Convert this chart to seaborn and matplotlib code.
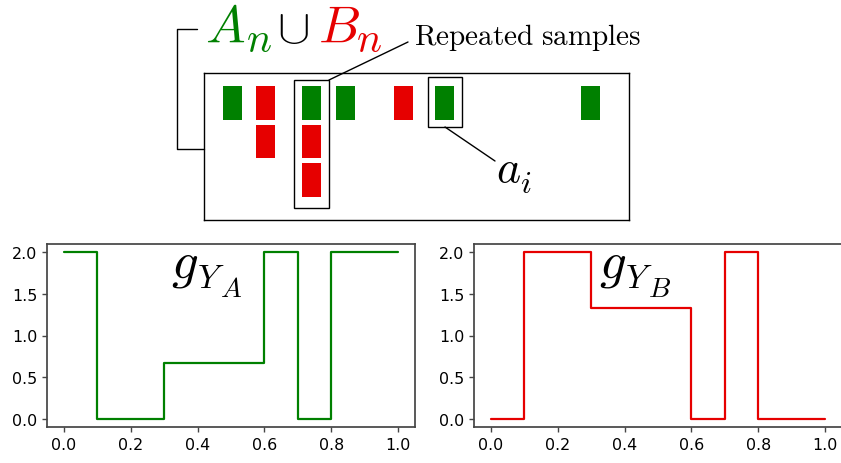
import numpy as np
import pandas as pd
import matplotlib
matplotlib.use("Agg")
import matplotlib.pyplot as plt
from matplotlib.lines import Line2D
from matplotlib.patches import Rectangle
import seaborn as sns

sns.set_style("ticks")
plt.rcParams['font.family'] = ['DejaVu Sans']
plt.rcParams['mathtext.fontset'] = 'cm'
plt.rcParams['text.color'] = 'black'
plt.rcParams['axes.edgecolor'] = '0.27'
plt.rcParams['xtick.color'] = '0.27'
plt.rcParams['ytick.color'] = '0.27'
plt.rcParams['xtick.labelcolor'] = 'black'
plt.rcParams['ytick.labelcolor'] = 'black'

green = '#008000'
red = '#e60000'

#%% dados
# amostras (posição no intervalo e conjunto de origem)
sample_x = [0.067, 0.145, 0.145, 0.253, 0.253, 0.253, 0.332, 0.469, 0.566, 0.909]
sample_set = ['A', 'B', 'B', 'A', 'B', 'B', 'A', 'B', 'A', 'A']

# funções degrau
edges = [0.0, 0.1, 0.3, 0.6, 0.7, 0.8, 1.0]
g_A = [2.0, 0.0, 0.667, 2.0, 0.0, 2.0, 2.0]
g_B = [0.0, 2.0, 1.333, 0.0, 2.0, 0.0, 0.0]

x_ticks = [0.0, 0.2, 0.4, 0.6, 0.8, 1.0]
y_ticks = [0.0, 0.5, 1.0, 1.5, 2.0]

W, H = 841, 464
fig = plt.figure(figsize=(W / 100, H / 100), dpi=100)


def px(x, y):
    return x / W, 1 - y / H


def rect(l, t, r, b):
    return [l / W, 1 - b / H, (r - l) / W, (b - t) / H]


def label(x, y, s, size, color='black'):
    fig.text(*px(x, y), s, color=color, fontsize=size, va='baseline')


#%% painel de cima
ax0 = fig.add_axes(rect(204, 74, 629, 221))
ax0.set_xlim(0, 1)
ax0.set_ylim(3.82, 0)
ax0.set_xticks([])
ax0.set_yticks([])
for s in ax0.spines.values():
    s.set_color('black')
    s.set_linewidth(1.0)

df = pd.DataFrame({'x': sample_x, 'set': sample_set})
df['level'] = df.groupby('x').cumcount()
bar_w = 0.045
row_top = 0.34
ax0.bar(df['x'], 0.88, bottom=row_top + df['level'], width=bar_w,
        color=[green if s == 'A' else red for s in df['set']], linewidth=0)

# caixa em volta da coluna repetida
counts = df['x'].value_counts()
rep_x = counts.idxmax()
rep_n = counts.max()
pad = 0.041
ax0.add_patch(Rectangle((rep_x - pad, row_top - 0.16), 2 * pad, rep_n + 0.33,
                        fill=False, edgecolor='black', linewidth=1.0))
# caixa em volta de a_i
ai_x = sample_x[8]
ax0.add_patch(Rectangle((ai_x - 0.04, row_top - 0.24), 0.08, 1.3,
                        fill=False, edgecolor='black', linewidth=1.0))

# textos e linhas fora do eixo
label(205, 43, r'$A$', 38, green)
label(246, 52, r'$n$', 30, green)
label(277, 43, r'$\cup$', 35)
label(318, 43, r'$B$', 38, red)
label(356, 52, r'$n$', 30, red)
label(414, 45, r'$\mathrm{Repeated\ samples}$', 21)
label(496, 182, r'$a$', 33)
label(520, 193, r'$i$', 23)

for xs, ys in [([197, 177, 177, 204], [30, 30, 150, 150]),
               ([408, 329], [43, 81]),
               ([445, 495], [128, 162])]:
    fx = [x / W for x in xs]
    fy = [1 - y / H for y in ys]
    fig.add_artist(Line2D(fx, fy, color='black', linewidth=1.0))

#%% painéis de baixo
axA = fig.add_axes(rect(47, 245, 415, 428))
axB = fig.add_axes(rect(474, 245, 842, 428))

for ax, g, c in [(axA, g_A, green), (axB, g_B, red)]:
    sns.lineplot(x=edges, y=g, drawstyle='steps-post', color=c, linewidth=1.6, ax=ax)
    ax.set_xticks(x_ticks)
    ax.set_yticks(y_ticks)
    ax.tick_params(labelsize=11.4, length=3.5, width=1.0)
    for s in ax.spines.values():
        s.set_linewidth(1.25)

for x0, sub in [(0, 'A'), (428, 'B')]:
    label(171 + x0, 278, r'$g$', 38)
    label(197 + x0, 288, r'$Y$', 24)
    label(220 + x0, 297, r'$%s$' % sub, 20)

fig.savefig("out.png", dpi=100)
